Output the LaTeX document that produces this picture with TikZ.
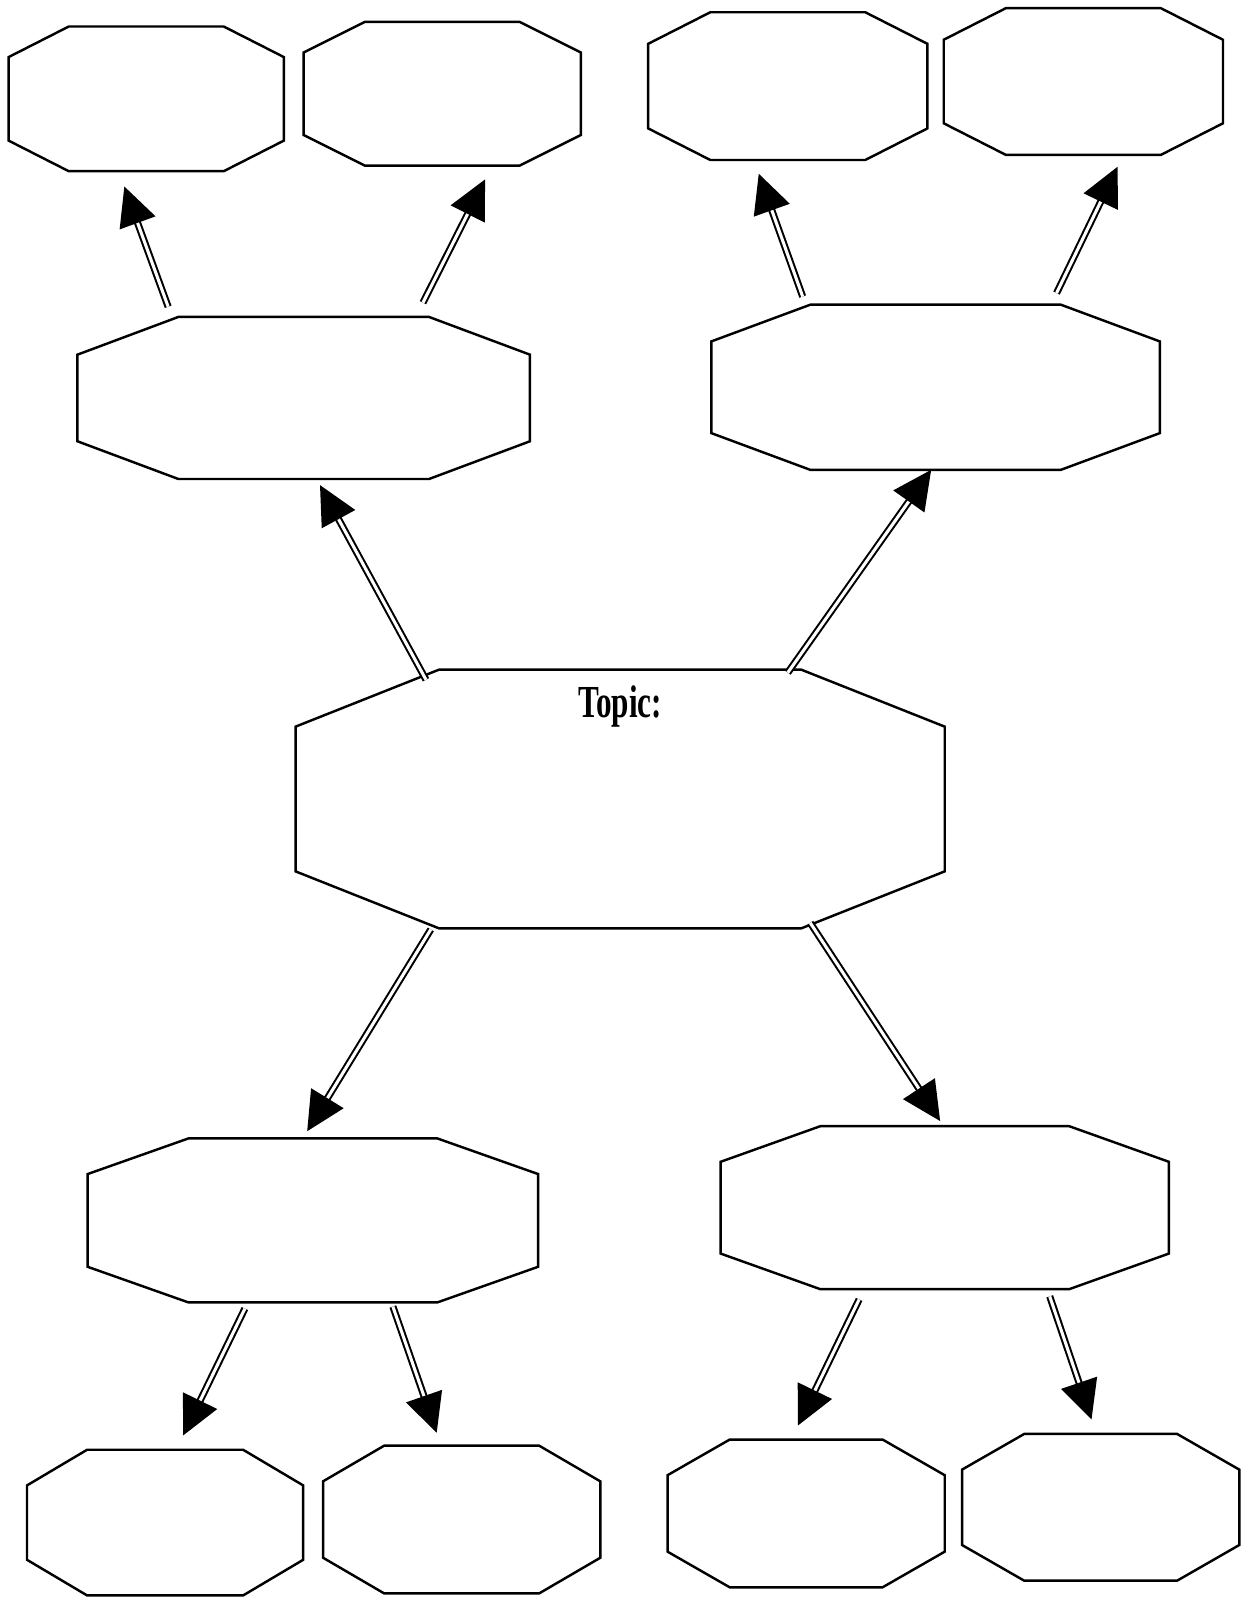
\documentclass[tikz,border=0pt]{standalone}
\usepackage{fontspec}
\usepackage{tikz}
\usetikzlibrary{arrows.meta,positioning}
\newfontfamily\topicfont[FakeStretch=0.68]{Liberation Serif}

\tikzstyle{arrow} = [line width=2pt, double, double distance=3pt, -{Triangle[length=38pt,width=37pt]}]
\tikzset{
  % octagon drawn round an empty rectangle node: first arg = corner cut across, second = corner cut down
  oct/.style 2 args={inner sep=0pt, outer sep=0pt,
    append after command={\pgfextra{\let\octnode\tikzlastnode
      \draw[line width=2.4pt, line join=miter]
        ([xshift=#1]\octnode.north west) -- ([xshift=-#1]\octnode.north east)
        -- ([yshift=-#2]\octnode.north east) -- ([yshift=#2]\octnode.south east)
        -- ([xshift=-#1]\octnode.south east) -- ([xshift=#1]\octnode.south west)
        -- ([yshift=#2]\octnode.south west) -- ([yshift=-#2]\octnode.north west)
        -- cycle;}}},
  topic/.style={font=\topicfont\bfseries\fontsize{45}{45}\selectfont, anchor=base}
}

\begin{document}
\begin{tikzpicture}[x=1pt, y=-1pt]
        \path[fill=white] (0,0) rectangle (1228,1568);

        % centre
        \node (TC) [oct={141}{56}, minimum width=637, minimum height=254] at (608.5,784) {};
        \node (topic) [topic, yshift=-47pt] at (TC.north) {Topic:};

        % second level
        \node (UL) [oct={99}{37}, minimum width=444, minimum height=159] at (298,390.5) {};
        \node (UR) [oct={97}{36}, minimum width=440, minimum height=162] at (918,380) {};
        \node (LL) [oct={99}{35}, minimum width=442, minimum height=161] at (307,1197.5) {};
        \node (LR) [oct={98}{35}, minimum width=440, minimum height=160] at (927,1185) {};

        % top row
        \node (TL1) [oct={59}{30}, minimum width=270, minimum height=142] at (143.5,97) {};
        \node (TL2) [oct={60}{30}, minimum width=272, minimum height=141] at (434,92) {};
        \node (TR1) [oct={61}{31}, minimum width=274, minimum height=145] at (773,84.5) {};
        \node (TR2) [oct={61}{31}, minimum width=274, minimum height=144] at (1063,80) {};

        % bottom row
        \node (BL1) [oct={59}{35}, minimum width=271, minimum height=143] at (162,1494) {};
        \node (BL2) [oct={60}{35}, minimum width=272, minimum height=145] at (453,1491) {};
        \node (BR1) [oct={61}{35}, minimum width=272, minimum height=145] at (791,1485) {};
        \node (BR2) [oct={61}{35}, minimum width=272, minimum height=144] at (1080,1479) {};

        % arrows out of the centre
        \draw[arrow] ([shift={(-190.5,10)}]TC.north) -- ([shift={(16,6)}]UL.south);
        \draw[arrow] ([shift={(164.5,3)}]TC.north) -- ([shift={(-4.3,0)}]UR.south);
        \draw[arrow] ([shift={(-185.8,1)}]TC.south) -- ([shift={(-5.6,-7)}]LL.north);
        \draw[arrow] ([shift={(186.5,-5.5)}]TC.south) -- ([shift={(-4.5,-5)}]LR.north);

        % arrows to the outer boxes
        \draw[arrow] ([shift={(-133,-10)}]UL.north) -- ([shift={(-21.5,15)}]TL1.south);
        \draw[arrow] ([shift={(117,-14)}]UL.north) -- ([shift={(42,13.5)}]TL2.south);
        \draw[arrow] ([shift={(-130.4,-8)}]UR.north) -- ([shift={(-28.5,13.5)}]TR1.south);
        \draw[arrow] ([shift={(118.7,-11.4)}]UR.north) -- ([shift={(33.6,11.6)}]TR2.south);
        \draw[arrow] ([shift={(-66.7,6)}]LL.south) -- ([shift={(17.7,-14)}]BL1.north);
        \draw[arrow] ([shift={(78.5,4)}]LL.south) -- ([shift={(-24.5,-12.7)}]BL2.north);
        \draw[arrow] ([shift={(-84,10)}]LR.south) -- ([shift={(-8,-13.8)}]BR1.north);
        \draw[arrow] ([shift={(103,7)}]LR.south) -- ([shift={(-9,-14.2)}]BR2.north);
    \end{tikzpicture}
\end{document}
